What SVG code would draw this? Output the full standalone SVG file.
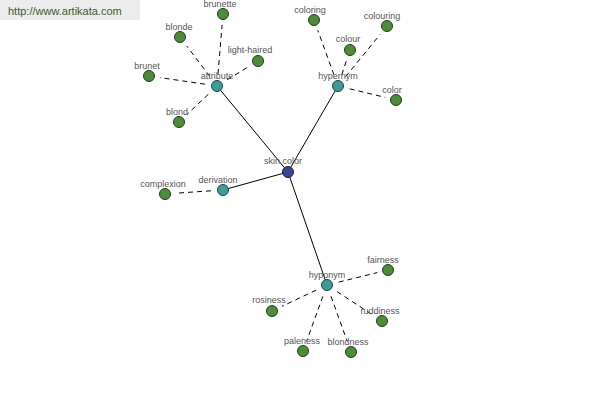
<svg xmlns="http://www.w3.org/2000/svg" width="600" height="400" viewBox="0 0 600 400">
<style>
.lbl{font-family:"Liberation Sans",Arial,sans-serif;font-size:9px;fill:#555;text-anchor:middle}
.leaf{fill:#4e8c3c;stroke:#1f3d17;stroke-width:1}
.hub{fill:#3f9a98;stroke:#1d4443;stroke-width:1}
.root{fill:#3c4590;stroke:#1a1d40;stroke-width:1}
.solid{stroke:#000;stroke-width:1;fill:none}
.dash{stroke:#000;stroke-width:1;stroke-dasharray:5,4;fill:none}
</style>
<rect width="600" height="400" fill="#fff"/>
<rect x="0" y="0" width="140" height="20" fill="#ececec"/>
<text x="8" y="15" style="font-family:'Liberation Sans',Arial,sans-serif;font-size:11px;fill:#3d5a2c">http://www.artikata.com</text>
<g id="connectors">
<line class="solid" x1="288" y1="172" x2="217" y2="86"/>
<line class="solid" x1="288" y1="172" x2="338" y2="86"/>
<line class="solid" x1="288" y1="172" x2="223" y2="190"/>
<line class="solid" x1="288" y1="172" x2="327" y2="285"/>
<line class="dash" x1="218" y1="74" x2="222.1" y2="25"/>
<line class="dash" x1="209.8" y1="76.4" x2="186.6" y2="45.8"/>
<line class="dash" x1="227.2" y1="79.7" x2="248.6" y2="66.7"/>
<line class="dash" x1="205.1" y1="84.2" x2="159.9" y2="77.6"/>
<line class="dash" x1="208.3" y1="94.3" x2="187" y2="114.4"/>
<line class="dash" x1="333.9" y1="74.7" x2="317.8" y2="30.3"/>
<line class="dash" x1="345.6" y1="76.7" x2="380" y2="34.5"/>
<line class="dash" x1="341.8" y1="74.6" x2="346.5" y2="60.4"/>
<line class="dash" x1="349.7" y1="88.8" x2="385.3" y2="97.4"/>
<line class="dash" x1="211" y1="190.8" x2="176" y2="193.2"/>
<line class="dash" x1="338.7" y1="282.1" x2="377.3" y2="272.6"/>
<line class="dash" x1="316.2" y1="290.1" x2="282" y2="306.3"/>
<line class="dash" x1="337" y1="291.6" x2="372.8" y2="315"/>
<line class="dash" x1="322.9" y1="296.3" x2="306.8" y2="340.7"/>
<line class="dash" x1="331" y1="296.3" x2="347.3" y2="341.6"/>
</g>
<g id="skin-color"><circle class="root" cx="288" cy="172" r="5.5"/><text class="lbl" x="283" y="164">skin color</text></g>
<g id="attribute"><circle class="hub" cx="217" cy="86" r="5.5"/><text class="lbl" x="217" y="79">attribute</text></g>
<g id="hypernym"><circle class="hub" cx="338" cy="86" r="5.5"/><text class="lbl" x="338" y="79">hypernym</text></g>
<g id="derivation"><circle class="hub" cx="223" cy="190" r="5.5"/><text class="lbl" x="218" y="183">derivation</text></g>
<g id="hyponym"><circle class="hub" cx="327" cy="285" r="5.5"/><text class="lbl" x="327" y="278">hyponym</text></g>
<g id="brunette"><circle class="leaf" cx="223" cy="14" r="5.5"/><text class="lbl" x="220" y="7">brunette</text></g>
<g id="blonde"><circle class="leaf" cx="180" cy="37" r="5.5"/><text class="lbl" x="179" y="30">blonde</text></g>
<g id="light-haired"><circle class="leaf" cx="258" cy="61" r="5.5"/><text class="lbl" x="250" y="53">light-haired</text></g>
<g id="brunet"><circle class="leaf" cx="149" cy="76" r="5.5"/><text class="lbl" x="147" y="69">brunet</text></g>
<g id="blond"><circle class="leaf" cx="179" cy="122" r="5.5"/><text class="lbl" x="177" y="115">blond</text></g>
<g id="coloring"><circle class="leaf" cx="314" cy="20" r="5.5"/><text class="lbl" x="310" y="13">coloring</text></g>
<g id="colouring"><circle class="leaf" cx="387" cy="26" r="5.5"/><text class="lbl" x="382" y="19">colouring</text></g>
<g id="colour"><circle class="leaf" cx="350" cy="50" r="5.5"/><text class="lbl" x="348" y="42">colour</text></g>
<g id="color"><circle class="leaf" cx="396" cy="100" r="5.5"/><text class="lbl" x="392" y="93">color</text></g>
<g id="complexion"><circle class="leaf" cx="165" cy="194" r="5.5"/><text class="lbl" x="163" y="187">complexion</text></g>
<g id="fairness"><circle class="leaf" cx="388" cy="270" r="5.5"/><text class="lbl" x="383" y="263">fairness</text></g>
<g id="rosiness"><circle class="leaf" cx="272" cy="311" r="5.5"/><text class="lbl" x="269" y="303">rosiness</text></g>
<g id="ruddiness"><circle class="leaf" cx="382" cy="321" r="5.5"/><text class="lbl" x="380" y="314">ruddiness</text></g>
<g id="paleness"><circle class="leaf" cx="303" cy="351" r="5.5"/><text class="lbl" x="302" y="344">paleness</text></g>
<g id="blondness"><circle class="leaf" cx="351" cy="352" r="5.5"/><text class="lbl" x="348" y="345">blondness</text></g>
</svg>
